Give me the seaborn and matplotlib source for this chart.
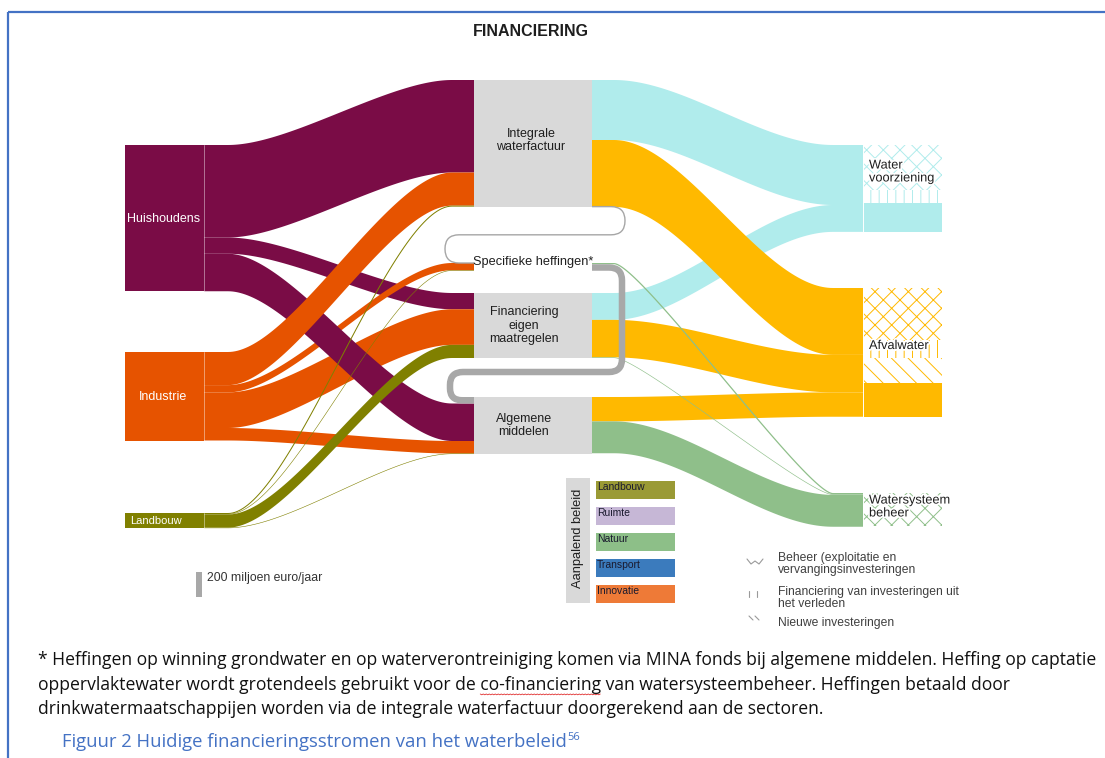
import numpy as np
import matplotlib
matplotlib.use("Agg")
import matplotlib.pyplot as plt
from matplotlib.patches import Rectangle, Polygon, PathPatch
from matplotlib.path import Path
import matplotlib.patheffects as pe
import seaborn as sns

# ---------------- data (miljoen euro / jaar) ----------------
link_src = ["HH", "HH", "IND", "IND", "IND", "HH", "IND", "LB", "LB", "LB", "LB",
            "IW", "FE", "IW", "FE", "AM", "AM", "SH", "FE", "SH"]
link_dst = ["IW", "FE", "SH", "FE", "AM", "AM", "IW", "IW", "SH", "FE", "AM",
            "WV", "WV", "AW", "AW", "AW", "WB", "WB", "WB", "AM"]
link_val = [740, 130, 58, 285, 100, 300, 265, 8, 4, 105, 4,
            480, 215, 535, 300, 195, 255, 10, 5, 52]

node_keys = ["HH", "IND", "LB", "IW", "SH", "FE", "AM", "WV", "AW", "WB"]
node_labels = ["Huishoudens", "Industrie", "Landbouw",
               "Integrale\nwaterfactuur", "Specifieke heffingen*",
               "Financiering\neigen\nmaatregelen", "Algemene\nmiddelen",
               "Water\nvoorziening", "Afvalwater", "Watersysteem\nbeheer"]

# split of the end nodes: beheer / verleden / nieuw / overig
end_nodes = ["WV", "AW", "WB"]
end_beheer = [360, 416, 265]
end_verleden = [104, 144, 0]
end_nieuw = [0, 200, 0]
end_overig = [232, 270, 0]

policy_labels = ["Landbouw", "Ruimte", "Natuur", "Transport", "Innovatie"]
policy_colors = ["#9A9A35", "#C6B7D6", "#8DBF88", "#3B7BBD", "#EE7A37"]
scale_value = 200

pattern_labels = ["Beheer (exploitatie en\nvervangingsinvesteringen",
                  "Financiering van investeringen uit\nhet verleden",
                  "Nieuwe investeringen"]

footnote = ["* Heffingen op winning grondwater en op waterverontreiniging komen via MINA fonds bij algemene middelen. Heffing op captatie",
            "oppervlaktewater wordt grotendeels gebruikt voor de co-financiering van watersysteembeheer. Heffingen betaald door",
            "drinkwatermaatschappijen worden via de integrale waterfactuur doorgerekend aan de sectoren."]
caption = "Figuur 2 Huidige financieringsstromen van het waterbeleid"

# ---------------- layout / style ----------------
PX = 25 / scale_value  # pixels per miljoen euro
col_x = {"left": (125, 204), "mid": (474, 592), "right": (863, 942)}
node_col = {"HH": "left", "IND": "left", "LB": "left", "IW": "mid", "SH": "mid",
            "FE": "mid", "AM": "mid", "WV": "right", "AW": "right", "WB": "right"}
node_top = {"HH": 145, "IND": 352, "LB": 513, "IW": 80, "SH": 263, "FE": 293,
            "AM": 397, "WV": 145, "AW": 288, "WB": 493}
out_order = {"HH": ["IW", "FE", "AM"], "IND": ["IW", "SH", "FE", "AM"],
             "LB": ["IW", "SH", "FE", "AM"], "IW": ["WV", "AW"], "SH": ["WB", "AM"],
             "FE": ["WV", "AW", "WB"], "AM": ["AW", "WB"]}
in_order = {"IW": ["HH", "IND", "LB"], "SH": ["IND", "LB"], "FE": ["HH", "IND", "LB"],
            "AM": ["SH", "HH", "IND", "LB"], "WV": ["IW", "FE"],
            "AW": ["IW", "FE", "AM"], "WB": ["SH", "FE", "AM"]}
colors = {"HH": "#7A0C46", "IND": "#E65300", "LB": "#808000",
          "WV": "#B0ECEC", "AW": "#FFB900", "WB": "#8FBF8A"}
grey_node = "#D9D9D9"
pipe_grey = "#A8A8A8"
text_dark = "#1E1E1E"

sns.set_theme(style="white")
plt.rcParams["font.family"] = ["Liberation Sans", "DejaVu Sans"]
plt.rcParams["hatch.linewidth"] = 0.7

fig = plt.figure(figsize=(11.05, 7.58), dpi=100)
ax = fig.add_axes([0, 0, 1, 1])
ax.set_xlim(0, 1105)
ax.set_ylim(758, 0)
ax.axis("off")

# --- stacking of links at each node side ---
idx = {(s, d): i for i, (s, d) in enumerate(zip(link_src, link_dst))}
out_y, in_y = {}, {}
for n, order in out_order.items():
    y = node_top[n]
    for d in order:
        i = idx[(n, d)]
        out_y[i] = y
        y += link_val[i] * PX
for n, order in in_order.items():
    y = node_top[n]
    for s in order:
        i = idx[(s, n)]
        in_y[i] = y
        y += link_val[i] * PX


def node_height(n, side):
    if side == "out":
        return sum(link_val[idx[(n, d)]] for d in out_order.get(n, [])) * PX
    return sum(link_val[idx[(s, n)]] for s in in_order.get(n, [])) * PX


def rounded_path(pts, r):
    verts = [pts[0]]
    codes = [Path.MOVETO]
    for i in range(1, len(pts) - 1):
        p0, p1, p2 = (np.array(p, float) for p in (pts[i - 1], pts[i], pts[i + 1]))
        l1, l2 = np.linalg.norm(p1 - p0), np.linalg.norm(p2 - p1)
        rr = min(r, l1 / 2, l2 / 2)
        a = p1 - (p1 - p0) / l1 * rr
        b = p1 + (p2 - p1) / l2 * rr
        verts += [tuple(a), tuple(p1), tuple(b)]
        codes += [Path.LINETO, Path.CURVE3, Path.CURVE3]
    verts.append(pts[-1])
    codes.append(Path.LINETO)
    return Path(verts, codes)


def band(x0, x1, y0, y1, h, fa, fb, color, k=0.5):
    t = np.linspace(0, 1, 80)
    xa, xb = x0 + fa, x1 - fb
    c1, c2 = xa + (xb - xa) * k, xb - (xb - xa) * k
    bx = (1 - t) ** 3 * xa + 3 * (1 - t) ** 2 * t * c1 + 3 * (1 - t) * t ** 2 * c2 + t ** 3 * xb
    s = 3 * t ** 2 - 2 * t ** 3
    top = y0 + (y1 - y0) * s
    if h < 1.6:
        xs = np.concatenate([[x0], bx, [x1]])
        ys = np.concatenate([[y0], top, [y1]]) + h / 2
        ax.plot(xs, ys, color=color, lw=max(h, 0.55) * 0.72, solid_capstyle="butt", zorder=3)
        return
    pts = [(x0, y0)] + list(zip(bx, top)) + [(x1, y1), (x1, y1 + h)] + \
          list(zip(bx[::-1], top[::-1] + h)) + [(x0, y0 + h)]
    ax.add_patch(Polygon(pts, closed=True, facecolor=color, edgecolor="none", zorder=2))


# --- links ---
for i, (s, d, v) in enumerate(zip(link_src, link_dst, link_val)):
    h = v * PX
    if (s, d) == ("SH", "AM"):
        continue
    if node_col[s] == "left":
        band(col_x["left"][1], col_x["mid"][0], out_y[i], in_y[i], h, 24, 22, colors[s], 0.28)
    else:
        k = 0.12 if h < 1.6 else 0.32
        band(col_x["mid"][1], col_x["right"][0], out_y[i], in_y[i], h, 22, 30, colors[d], k)

# --- grey pipe: specifieke heffingen -> algemene middelen ---
i = idx[("SH", "AM")]
h = link_val[i] * PX
ys = out_y[i] + h / 2
yd = in_y[i] + h / 2
pipe = rounded_path([(col_x["mid"][1], ys), (622, ys), (622, 372), (450, 372),
                     (450, yd), (col_x["mid"][0], yd)], 13)
ax.add_patch(PathPatch(pipe, fill=False, edgecolor=pipe_grey, lw=h * 0.72,
                       capstyle="butt", joinstyle="round", zorder=4))

# --- hollow band: integrale waterfactuur -> specifieke heffingen ---
iw_bot = node_top["IW"] + node_height("IW", "in")
mid_y = (iw_bot + node_top["SH"]) / 2
hollow = rounded_path([(col_x["mid"][1], iw_bot), (625, iw_bot), (625, mid_y),
                       (445, mid_y), (445, node_top["SH"]), (col_x["mid"][0], node_top["SH"])], 14)
ax.add_patch(PathPatch(hollow, fill=False, edgecolor="#A6A6A6", lw=1.0, zorder=4))

# --- nodes ---
for n, lab in zip(node_keys, node_labels):
    x0, x1 = col_x[node_col[n]]
    top = node_top[n]
    if node_col[n] == "left":
        hgt = node_height(n, "out")
        ax.add_patch(Rectangle((x0, top), x1 - x0, hgt, facecolor=colors[n],
                               edgecolor="none", zorder=5))
        ax.plot([x1, x1], [top, top + hgt], color="white", lw=0.6, alpha=0.5, zorder=6)
        if n == "LB":
            ax.text(x0 + 5, top + hgt / 2, lab, color="white", fontsize=8, va="center", zorder=7)
        else:
            ax.text((x0 + x1) / 2 - 1, top + hgt / 2 + 1, lab, color="white", fontsize=9,
                    ha="center", va="center", zorder=7)
    elif node_col[n] == "mid":
        if n == "SH":
            ax.text((x0 + x1) / 2, top - 1, lab, color=text_dark, fontsize=9.2,
                    ha="center", va="center", zorder=7)
            continue
        hgt = max(node_height(n, "in"), node_height(n, "out"))
        ax.add_patch(Rectangle((x0, top), x1 - x0, hgt, facecolor=grey_node,
                               edgecolor="none", zorder=5))
        dx = -2 if n == "IW" else -9
        dy = -3 if n == "IW" else 0
        ax.text((x0 + x1) / 2 + dx, top + hgt / 2 + dy, lab, color=text_dark, fontsize=9,
                ha="center", va="center", linespacing=1.15, zorder=7)

# end nodes with financing-type patterns
patterns = ["xx", "||", "\\\\", None]
for n, b, vl, nw, ov in zip(end_nodes, end_beheer, end_verleden, end_nieuw, end_overig):
    x0, x1 = col_x["right"]
    y = node_top[n]
    for val, hat in zip([b, vl, nw, ov], patterns):
        hh = val * PX
        if hh <= 0:
            continue
        if hat is None:
            ax.add_patch(Rectangle((x0, y), x1 - x0, hh, facecolor=colors[n],
                                   edgecolor="none", zorder=5))
        else:
            ax.add_patch(Rectangle((x0, y), x1 - x0, hh, facecolor="white",
                                   edgecolor=colors[n], hatch=hat, lw=0, zorder=5))
        y += hh
    ax.plot([x0, x0], [node_top[n], y], color="white", lw=0.7, zorder=6)

txt_fx = [pe.withStroke(linewidth=2.5, foreground="white")]
ax.text(869, 172, "Water\nvoorziening", fontsize=9.2, color=text_dark, va="center",
        linespacing=1.1, zorder=7, path_effects=txt_fx)
ax.text(869, 346, "Afvalwater", fontsize=9.2, color=text_dark, va="center",
        zorder=7, path_effects=txt_fx)
ax.text(869, 507, "Watersysteem\nbeheer", fontsize=9.2, color=text_dark, va="center",
        linespacing=1.1, zorder=7, path_effects=txt_fx)

# title
ax.text(531, 31, "FINANCIERING", fontsize=11.5, fontweight="bold", color=text_dark,
        ha="center", va="center")

# --- legend: aanpalend beleid ---
ax.add_patch(Rectangle((566, 478), 24, 125, facecolor=grey_node, edgecolor="none"))
ax.text(578, 538, "Aanpalend beleid", rotation=90, fontsize=9.3, color=text_dark,
        ha="center", va="center")
for j, (lab, c) in enumerate(zip(policy_labels, policy_colors)):
    y = 481 + j * 26
    ax.add_patch(Rectangle((596, y), 79, 18, facecolor=c, edgecolor="none"))
    ax.text(597, y + 1, lab, fontsize=7.5, color="#1A1A2E", va="top")

# --- scale bar ---
ax.add_patch(Rectangle((196, 572), 6, scale_value * PX, facecolor=pipe_grey, edgecolor="none"))
ax.text(207, 578, f"{scale_value} miljoen euro/jaar", fontsize=8.8, color="#333333", va="center")

# --- legend: financing types ---
lg = "#9A9A9A"
ax.plot([747, 751, 755, 759, 763], [559, 564, 561, 564, 559], color=lg, lw=0.8)
ax.plot([749, 749], [591, 597], color=lg, lw=0.8)
ax.plot([757, 757], [591, 597], color=lg, lw=0.8)
ax.plot([749, 753], [616, 620], color=lg, lw=0.8)
ax.plot([755, 759], [616, 620], color=lg, lw=0.8)
for lab, y in zip(pattern_labels, [564, 598, 623]):
    ax.text(778, y, lab, fontsize=8.7, color="#404040", va="center", linespacing=1.0)

# --- footnote and caption ---
fig.canvas.draw()
rend = fig.canvas.get_renderer()
fn_family = ["Open Sans", "DejaVu Sans"]
probe = ax.text(38, 660, footnote[0], family=fn_family, fontsize=11, va="center")
fs = 11 * 1060 / probe.get_window_extent(rend).width
probe.remove()
for line, y in zip(footnote, [660, 685, 709]):
    ax.text(38, y, line, family=fn_family, fontsize=fs, va="center", color="#111111")

# red spell-check squiggle under "co-financiering"
pre = ax.text(38, 685, "oppervlaktewater wordt grotendeels gebruikt voor de ", family=fn_family, fontsize=fs)
wd = ax.text(38, 685, "co-financiering", family=fn_family, fontsize=fs)
sx0 = 38 + pre.get_window_extent(rend).width
sx1 = sx0 + wd.get_window_extent(rend).width
pre.remove()
wd.remove()
zx = np.arange(sx0, sx1, 1.5)
ax.plot(zx, 694 + 0.8 * (np.arange(len(zx)) % 2), color="#E03030", lw=0.6)

cap_probe = ax.text(62, 742, caption, family=fn_family, fontsize=12, va="center")
cfs = 12 * 501 / cap_probe.get_window_extent(rend).width
cap_probe.remove()
cap = ax.text(62, 742, caption, family=fn_family, fontsize=cfs, va="center", color="#4472C4")
cend = 62 + cap.get_window_extent(rend).width
ax.text(cend, 737, "56", family=fn_family, fontsize=cfs * 0.6, va="center", color="#4472C4")

# frame
ax.plot([8, 8], [12, 758], color="#4472C4", lw=1.6, solid_capstyle="butt")
ax.plot([8, 1105], [12, 12], color="#4472C4", lw=1.6, solid_capstyle="butt")

fig.savefig("out.png", dpi=100, facecolor="white")
